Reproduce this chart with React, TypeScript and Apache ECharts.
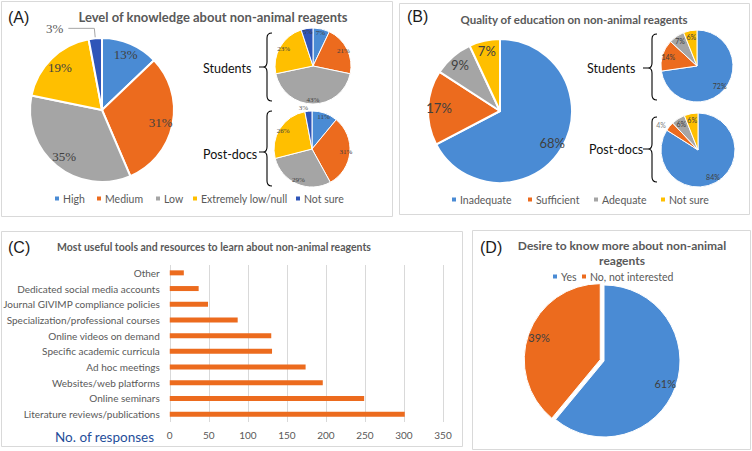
import React, { useEffect, useRef } from "react";
import * as echarts from "echarts";

// ---------- data ----------
const knowledgeLevels = ["High", "Medium", "Low", "Extremely low/null", "Not sure"];
const knowledgeAll = [13, 31, 35, 19, 3];
const knowledgeStudents = [7, 21, 43, 23, 5];
const knowledgePostdocs = [11, 31, 29, 26, 3];

const educationLevels = ["Inadequate", "Sufficient", "Adequate", "Not sure"];
const educationAll = [68, 17, 9, 7];
const educationStudents = [72, 14, 7, 6];
const educationPostdocs = [84, 4, 6, 6];

const toolNames = [
  "Other",
  "Dedicated social media accounts",
  "Journal GIVIMP compliance policies",
  "Specialization/professional courses",
  "Online videos on demand",
  "Specific academic curricula",
  "Ad hoc meetings",
  "Websites/web platforms",
  "Online seminars",
  "Literature reviews/publications",
];
const toolResponses = [18, 37, 49, 87, 130, 131, 174, 196, 249, 301];
const responseAxis = { min: 0, max: 350, interval: 50 };

const desireLevels = ["Yes", "No, not interested"];
const desireAll = [61, 39];

// ---------- layout (legend item anchors) ----------
const legendLeftA = [53, 95, 154, 191, 294];
const legendLeftB = [450, 526, 592, 659];
const legendLeftD = [551, 580];

// ---------- styles ----------
const BLUE = "#4A8BD4";
const ORANGE = "#EC6B1E";
const GRAY = "#A5A5A5";
const YELLOW = "#FFBF00";
const DARKBLUE = "#2F55B8";
const knowledgeColors = [BLUE, ORANGE, GRAY, YELLOW, DARKBLUE];
const educationColors = [BLUE, ORANGE, GRAY, YELLOW];
const desireColors = [BLUE, ORANGE];
const SANS = "Lato";
const SERIF = "'Liberation Serif', 'DejaVu Serif', serif";
const TXT = "#595959";

function braceD(xv: number, y0: number, y1: number, ym: number, tip: number) {
  return `M${xv + 5} ${y0} Q${xv} ${y0} ${xv} ${y0 + 5} L${xv} ${ym - 5} Q${xv} ${ym} ${xv - 4} ${ym} Q${xv} ${ym} ${xv} ${ym + 5} L${xv} ${y1 - 5} Q${xv} ${y1} ${xv + 5} ${y1} M${xv - 4} ${ym} L${xv - 4 - tip} ${ym}`;
}

let registered = false;
function registerBraces() {
  if (registered) return;
  registered = true;
  echarts.graphic.registerShape("braceA1", echarts.graphic.extendPath(braceD(267, 33, 101, 67, 4), {}));
  echarts.graphic.registerShape("braceA2", echarts.graphic.extendPath(braceD(267, 111, 186, 152, 4), {}));
  echarts.graphic.registerShape("braceB1", echarts.graphic.extendPath(braceD(652, 34, 100, 68, 5), {}));
  echarts.graphic.registerShape("braceB2", echarts.graphic.extendPath(braceD(652, 117, 182, 149, 5), {}));
}

function pieSeries(
  names: string[],
  values: number[],
  colors: string[],
  cx: number,
  cy: number,
  r: number,
  rLabel: number,
  border: number,
  labelStyle: any,
  outside: Record<number, any> = {},
  selectedIdx = -1
) {
  const mk = (overlay: boolean) =>
    names.map((n, i) => {
      const item: any = {
        name: n,
        value: values[i],
        itemStyle: { color: overlay ? "rgba(0,0,0,0)" : colors[i] },
      };
      if (i === selectedIdx) item.selected = true;
      if (overlay && outside[i]) {
        item.label = { position: "outside", ...outside[i].label };
        item.labelLine = outside[i].labelLine;
      }
      return item;
    });
  const common = {
    type: "pie",
    center: [cx, cy],
    startAngle: 90,
    clockwise: true,
    silent: true,
    selectedMode: selectedIdx >= 0 ? "single" : false,
    selectedOffset: 4,
    emphasis: { disabled: true },
    avoidLabelOverlap: false,
  };
  return [
    {
      ...common,
      radius: [0, r],
      data: mk(false),
      label: { show: false },
      labelLine: { show: false },
      itemStyle: { borderColor: "#fff", borderWidth: border },
    },
    {
      ...common,
      radius: [rLabel, r],
      data: mk(true),
      label: { show: true, position: "inside", formatter: "{c}%", ...labelStyle },
      labelLine: { show: false },
      itemStyle: { borderWidth: 0 },
    },
  ];
}

function txt(text: string, x: number, y: number, font: string, fill = "#000", align = "left") {
  return {
    type: "text",
    x,
    y,
    silent: true,
    style: { text, font, fill, textAlign: align, textVerticalAlign: "middle" },
  };
}

function box(x: number, y: number, w: number, h: number) {
  return {
    type: "rect",
    silent: true,
    shape: { x: x + 0.5, y: y + 0.5, width: w, height: h },
    style: { fill: "none", stroke: "#D9D9D9", lineWidth: 1 },
  };
}

function brace(type: string) {
  return { type, silent: true, style: { fill: "none", stroke: "#000", lineWidth: 1.1 } };
}

function legends(names: string[], colors: string[], lefts: number[], top: number, fontSize: number) {
  return names.map((n, i) => ({
    left: lefts[i],
    top,
    icon: "rect",
    itemWidth: 6,
    itemHeight: 6,
    padding: 0,
    selectedMode: false,
    textStyle: { color: TXT, fontSize, fontFamily: SANS, padding: [0, 0, 0, -2] },
    data: [{ name: n, itemStyle: { color: colors[i] } }],
  }));
}

export default function App() {
  const ref = useRef<HTMLDivElement>(null);
  useEffect(() => {
    if (!ref.current) return;
    registerBraces();
    const chart = echarts.init(ref.current, null, { renderer: "svg" });
    const serifSmall = { fontFamily: SERIF, fontSize: 7, color: "#404040" };
    const sansSmall = { fontFamily: SANS, fontSize: 7, color: "#404040" };
    const option: any = {
      animation: false,
      backgroundColor: "#fff",
      graphic: [
        box(1, 1, 391, 215),
        box(399, 3, 350, 211),
        box(1, 231, 461, 215),
        box(472, 230, 278, 219),
        brace("braceA1"),
        brace("braceA2"),
        brace("braceB1"),
        brace("braceB2"),
        txt("(A)", 8, 17, `16px Liberation Sans`, "#1a1a1a"),
        txt("(B)", 407, 16, `16px Liberation Sans`, "#1a1a1a"),
        txt("(C)", 8, 247, `16px Liberation Sans`, "#1a1a1a"),
        txt("(D)", 480, 247, `16px Liberation Sans`, "#1a1a1a"),
        txt("Level of knowledge about non-animal reagents", 213, 17, `bold 13px ${SANS}`, TXT, "center"),
        txt("Quality of education on non-animal reagents", 574, 19, `bold 11.5px ${SANS}`, TXT, "center"),
        txt("Most useful tools and resources to learn about non-animal reagents", 214, 247, `bold 10.5px ${SANS}`, TXT, "center"),
        txt("Desire to know more about non-animal", 622, 245, `bold 12px ${SANS}`, TXT, "center"),
        txt("reagents", 622, 260, `bold 12px ${SANS}`, TXT, "center"),
        txt("Students", 203, 68, `12.5px ${SANS}`, "#111"),
        txt("Post-docs", 203, 154, `12.5px ${SANS}`, "#111"),
        txt("Students", 587, 68, `12.5px ${SANS}`, "#111"),
        txt("Post-docs", 589, 149, `12.5px ${SANS}`, "#111"),
        txt("No. of responses", 55, 437, `13.5px ${SANS}`, "#1F4E9A"),
      ],
      legend: [
        ...legends(knowledgeLevels, knowledgeColors, legendLeftA, 193, 10.5),
        ...legends(educationLevels, educationColors, legendLeftB, 194, 10.5),
        ...legends(desireLevels, desireColors, legendLeftD, 271, 10.5),
      ],
      grid: { left: 167, top: 265, width: 276, height: 157 },
      xAxis: {
        type: "value",
        ...responseAxis,
        axisLine: { show: false },
        axisTick: { show: false },
        axisLabel: { color: TXT, fontSize: 10, fontFamily: SANS, margin: 8 },
        splitLine: { lineStyle: { color: "#D9D9D9" } },
      },
      yAxis: {
        type: "category",
        data: toolNames,
        inverse: true,
        axisLine: { show: false },
        axisTick: { show: false },
        axisLabel: { color: TXT, fontSize: 10, fontFamily: SANS, margin: 10 },
      },
      series: [
        {
          type: "bar",
          data: toolResponses,
          barWidth: 5,
          itemStyle: { color: ORANGE },
          silent: true,
        },
        ...pieSeries(knowledgeLevels, knowledgeAll, knowledgeColors, 102, 110, 72, 42, 2,
          { fontFamily: SERIF, fontSize: 13, color: "#404040" },
          { 4: { label: { color: TXT }, labelLine: { show: true, length: 10, length2: 26, lineStyle: { color: "#A6A6A6", width: 1 } } } }),
        ...pieSeries(knowledgeLevels, knowledgeStudents, knowledgeColors, 313, 66, 38, 24, 1, serifSmall),
        ...pieSeries(knowledgeLevels, knowledgePostdocs, knowledgeColors, 312, 149, 38, 24, 1, serifSmall,
          { 4: { label: { color: TXT, distanceToLabelLine: 0 }, labelLine: { show: false, length: 3, length2: 0 } } }),
        ...pieSeries(educationLevels, educationAll, educationColors, 500, 111, 72, 44, 2,
          { fontFamily: SANS, fontSize: 13, color: "#404040" }),
        ...pieSeries(educationLevels, educationStudents, educationColors, 697, 66, 36, 18, 1, sansSmall),
        ...pieSeries(educationLevels, educationPostdocs, educationColors, 698, 150, 37, 19, 1, sansSmall,
          { 1: { label: { color: "#7F7F7F", distanceToLabelLine: 2 }, labelLine: { show: false, length: 2, length2: 0 } } }),
        ...pieSeries(desireLevels, desireAll, desireColors, 604, 361, 76, 48, 1,
          { fontFamily: SANS, fontSize: 11, color: "#404040" }, {}, 1),
      ],
    };
    chart.setOption(option);
    return () => chart.dispose();
  }, []);
  return (
    <div
      ref={ref}
      style={{ position: "absolute", left: 0, top: 0, width: 752, height: 451, background: "#fff" }}
    />
  );
}
